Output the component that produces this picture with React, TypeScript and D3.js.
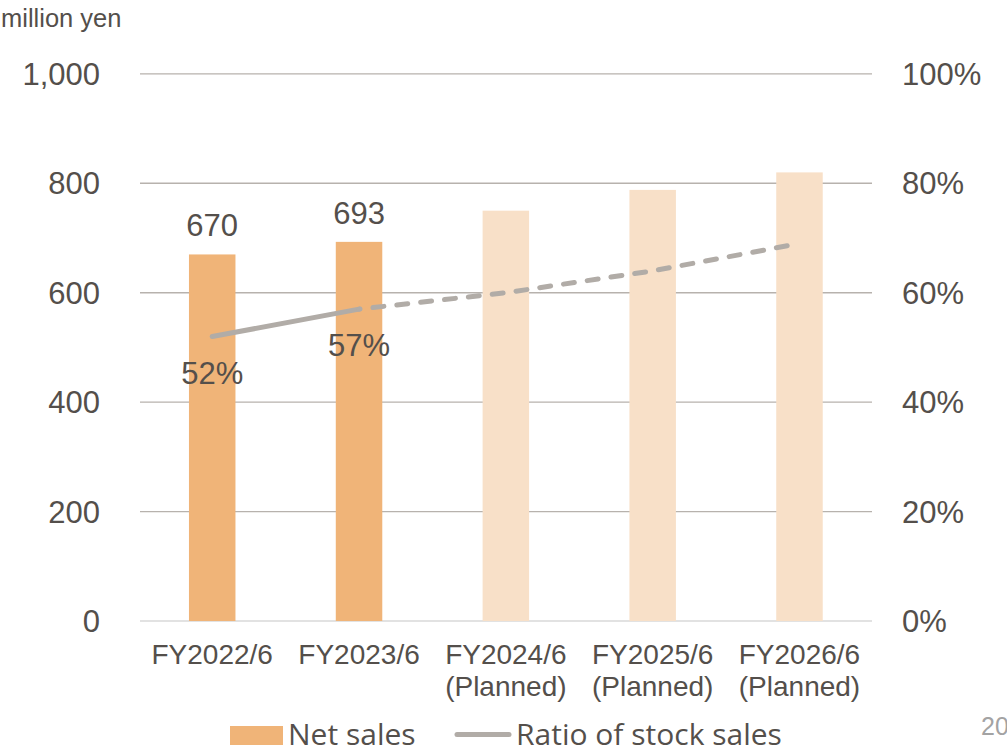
import React from "react";
import * as d3 from "d3";

// Fiscal years, net sales (million yen) and ratio of stock sales (%)
const categories = ["FY2022/6", "FY2023/6", "FY2024/6", "FY2025/6", "FY2026/6"];
const planned = [false, false, true, true, true];
const netSales = [670, 693, 750, 788, 820];
const stockRatio = [52, 57, 60, 64, 69];
const salesTicks = [0, 200, 400, 600, 800, 1000];
const ratioTicks = [0, 20, 40, 60, 80, 100];

const W = 1007;
const H = 748;
const TEXT = "#544f4b";
const GRID = "#b7b2ad";
const ACTUAL = "#f0b478";
const PLAN = "#f8e0c8";
const LINE = "#b1aca7";
const SANS = "'Liberation Sans', Arial, sans-serif";
const LEGEND_FONT = "'Open Sans', 'Noto Sans', sans-serif";

export default function App() {
  const x = d3.scaleBand<string>().domain(categories).range([138.8, 872.9]).padding(0);
  const ySales = d3.scaleLinear().domain([0, 1000]).range([621, 73.9]);
  const yRatio = d3.scaleLinear().domain([0, 100]).range([621, 73.9]);
  const barW = 46.5;
  const cx = (c: string) => (x(c) as number) + x.bandwidth() / 2;

  // solid segment covers actual results, dashed covers the plan
  const lastActual = planned.indexOf(true) - 1;
  const solidPts = stockRatio.slice(0, lastActual + 1);
  const dashedPts = stockRatio.slice(lastActual);
  const solidLine = d3
    .line<number>()
    .x((_, i) => cx(categories[i]))
    .y((d) => yRatio(d));
  const dashedLine = d3
    .line<number>()
    .x((_, i) => cx(categories[i + lastActual]))
    .y((d) => yRatio(d));

  return (
    <svg
      width={W}
      height={H}
      style={{ position: "absolute", left: 0, top: 0, background: "#fff" }}
    >
      <text x={1} y={27} fontFamily={SANS} fontSize={25.5} fill={TEXT}>
        million yen
      </text>

      {salesTicks.map((t) => (
        <line
          key={"g" + t}
          x1={140}
          x2={872}
          y1={ySales(t)}
          y2={ySales(t)}
          stroke={t === 0 ? "#d9d9d9" : GRID}
          strokeWidth={1.4}
        />
      ))}

      {salesTicks.map((t) => (
        <text
          key={"l" + t}
          x={100}
          y={ySales(t) + 11}
          textAnchor="end"
          fontFamily={SANS}
          fontSize={31}
          fill={TEXT}
        >
          {d3.format(",")(t)}
        </text>
      ))}

      {ratioTicks.map((t) => (
        <text
          key={"r" + t}
          x={902}
          y={yRatio(t) + 11}
          fontFamily={SANS}
          fontSize={31}
          fill={TEXT}
        >
          {t + "%"}
        </text>
      ))}

      {netSales.map((v, i) => (
        <rect
          key={"b" + i}
          x={cx(categories[i]) - barW / 2}
          y={ySales(v)}
          width={barW}
          height={ySales(0) - ySales(v)}
          fill={planned[i] ? PLAN : ACTUAL}
        />
      ))}

      <path
        d={solidLine(solidPts) || ""}
        fill="none"
        stroke={LINE}
        strokeWidth={5}
        strokeLinecap="round"
      />
      <path
        d={dashedLine(dashedPts) || ""}
        fill="none"
        stroke={LINE}
        strokeWidth={5}
        strokeLinecap="round"
        strokeDasharray="11 13"
        strokeDashoffset={-14}
      />

      {netSales.map((v, i) =>
        planned[i] ? null : (
          <text
            key={"v" + i}
            x={cx(categories[i])}
            y={ySales(v) - 18}
            textAnchor="middle"
            fontFamily={SANS}
            fontSize={31}
            fill={TEXT}
          >
            {v}
          </text>
        )
      )}

      {stockRatio.map((v, i) =>
        planned[i] ? null : (
          <text
            key={"p" + i}
            x={cx(categories[i])}
            y={yRatio(v) + 47}
            textAnchor="middle"
            fontFamily={SANS}
            fontSize={31}
            fill={TEXT}
          >
            {v + "%"}
          </text>
        )
      )}

      {categories.map((c, i) => (
        <text
          key={"c" + i}
          x={cx(c)}
          textAnchor="middle"
          fontFamily={SANS}
          fontSize={28}
          fill={TEXT}
        >
          <tspan x={cx(c)} y={664}>
            {c}
          </tspan>
          {planned[i] ? (
            <tspan x={cx(c)} y={696}>
              (Planned)
            </tspan>
          ) : null}
        </text>
      ))}

      {/* legend */}
      <rect x={230} y={726} width={53} height={19} fill={ACTUAL} />
      <text x={288} y={745} fontFamily={LEGEND_FONT} fontSize={30} fill={TEXT}>
        Net sales
      </text>
      <line
        x1={457}
        x2={509}
        y1={734.5}
        y2={734.5}
        stroke={LINE}
        strokeWidth={5}
        strokeLinecap="round"
      />
      <text x={516} y={745} fontFamily={LEGEND_FONT} fontSize={30} fill={TEXT}>
        Ratio of stock sales
      </text>

      {/* page number */}
      <text x={981} y={735} fontFamily={SANS} fontSize={25} fill="#a3a3a3">
        20
      </text>
    </svg>
  );
}
